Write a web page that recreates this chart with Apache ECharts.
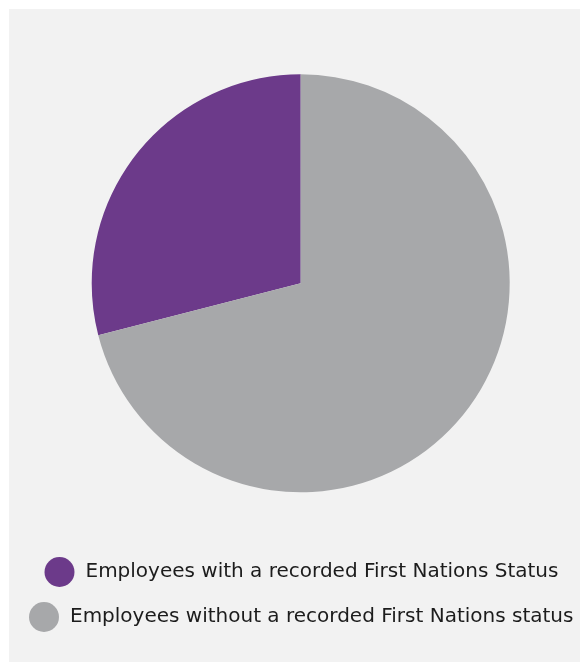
<!DOCTYPE html>
<html>
<head>
<meta charset="utf-8">
<script src="https://cdn.jsdelivr.net/npm/echarts@6/dist/echarts.min.js"></script>
<style>
  html, body { margin: 0; padding: 0; background: #ffffff; }
  #chart { width: 580px; height: 662px; }
</style>
</head>
<body>
<div id="chart"></div>
<script>
// Share of employees by recorded First Nations status (%)
const categories = [
  'Employees with a recorded First Nations Status',
  'Employees without a recorded First Nations status'
];
const shares = [29, 71];
const colors = ['#6c3a8a', '#a7a8aa'];

const chart = echarts.init(document.getElementById('chart'), null, { renderer: 'canvas' });

const legendText = {
  fontFamily: 'DejaVu Sans',
  fontSize: 20,
  color: '#1c1c1c',
  padding: [0, 0, 0, 6]
};

chart.setOption({
  backgroundColor: '#ffffff',
  animation: false,
  graphic: [{
    type: 'rect',
    shape: { x: 9, y: 9, width: 571, height: 653 },
    style: { fill: '#f2f2f2' },
    z: -10,
    silent: true
  }],
  legend: [
    {
      data: [categories[0]],
      left: 44.5,
      top: 557,
      padding: 0,
      icon: 'circle',
      itemWidth: 30,
      itemHeight: 30,
      textStyle: legendText,
      selectedMode: false
    },
    {
      data: [categories[1]],
      left: 29,
      top: 602,
      padding: 0,
      icon: 'circle',
      itemWidth: 30,
      itemHeight: 30,
      textStyle: legendText,
      selectedMode: false
    }
  ],
  series: [{
    type: 'pie',
    center: [300.7, 283.3],
    radius: 209,
    startAngle: 90,
    clockwise: false,
    label: { show: false },
    labelLine: { show: false },
    silent: true,
    itemStyle: { borderWidth: 0 },
    data: categories.map((name, i) => ({
      name: name,
      value: shares[i],
      itemStyle: { color: colors[i] }
    }))
  }]
});
</script>
</body>
</html>
